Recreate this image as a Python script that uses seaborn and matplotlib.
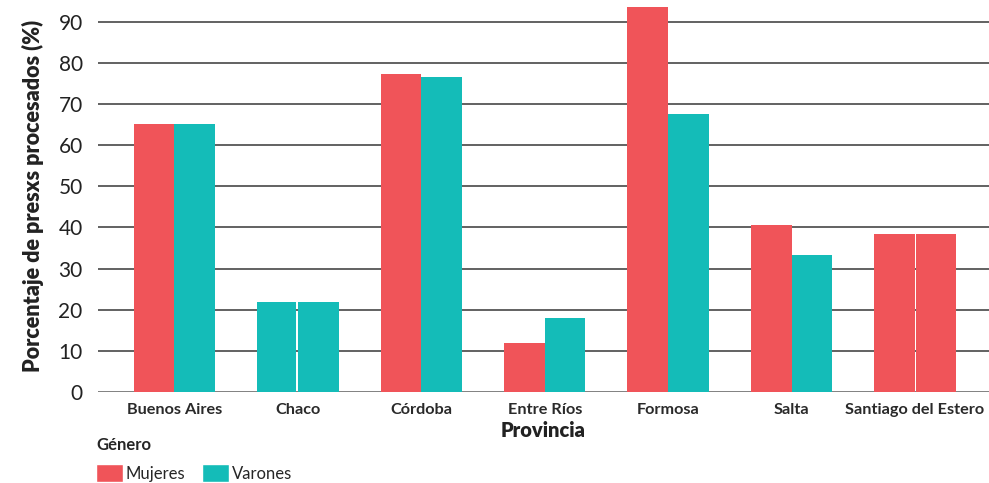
import matplotlib
matplotlib.use("Agg")
import matplotlib.pyplot as plt
from matplotlib.patches import Patch
import seaborn as sns
import pandas as pd

provincias = ["Buenos Aires", "Chaco", "Córdoba", "Entre Ríos", "Formosa", "Salta", "Santiago del Estero"]
mujeres = [65.1, 21.8, 77.2, 11.8, 93.6, 40.7, 38.5]
varones = [65.1, 21.8, 76.5, 18.0, 67.6, 33.2, 38.5]
generos = ["Mujeres", "Varones"]
yticks = [0, 10, 20, 30, 40, 50, 60, 70, 80, 90]

# in the original, Chaco is drawn all teal and Santiago del Estero all red
color_forzado = {("Mujeres", "Chaco"): "Varones", ("Varones", "Santiago del Estero"): "Mujeres"}

ROJO = "#F05459"
TEAL = "#14BCB8"
colores = {"Mujeres": ROJO, "Varones": TEAL}

df = pd.DataFrame({
    "Provincia": provincias * 2,
    "Porcentaje": mujeres + varones,
    "Género": ["Mujeres"] * len(provincias) + ["Varones"] * len(provincias),
})

sns.set_theme(style="white")
plt.rcParams["font.family"] = ["Lato", "DejaVu Sans"]

fig = plt.figure(figsize=(9.89, 4.83), dpi=100)
ax = fig.add_axes([0.099, 0.1884, 0.901, 0.8116])

sns.barplot(data=df, x="Provincia", y="Porcentaje", hue="Género", order=provincias,
            hue_order=generos, palette=colores, width=0.66, linewidth=0,
            saturation=1, legend=False, ax=ax, zorder=3)

# recolour the bars that the original draws in the other colour,
# leaving a thin white gap between the two same-coloured bars
i = 0
for g in generos:
    for p in provincias:
        bar = ax.patches[i]
        if (g, p) in color_forzado:
            bar.set_facecolor(colores[color_forzado[(g, p)]])
            w = bar.get_width()
            if g == "Mujeres":
                bar.set_width(w - 0.012)
            else:
                bar.set_x(bar.get_x() + 0.012)
                bar.set_width(w - 0.012)
        i += 1

ax.set_ylim(0, 95.3)
ax.set_xlim(-0.62, 6.6)
ax.set_yticks(yticks)
ax.set_yticklabels([str(t) for t in yticks], fontsize=15, color="#222222")
ax.tick_params(axis="y", length=0, pad=11)
ax.tick_params(axis="x", length=0, pad=8)
for lab in ax.get_xticklabels():
    lab.set_fontweight("bold")
    lab.set_fontsize(11.7)
    lab.set_color("#2a2a2a")

ax.yaxis.grid(True, color="#555555", linewidth=1.3, zorder=0)
ax.axhline(0, color="#888888", linewidth=2, zorder=2)
for s in ax.spines.values():
    s.set_visible(False)

ax.set_ylabel("Porcentaje de presxs procesados (%)", fontsize=15.5, fontweight="heavy",
              color="#222222", labelpad=10)
ax.set_xlabel("Provincia", fontsize=14.5, fontweight="heavy", color="#222222", labelpad=3)

handles = [Patch(facecolor=colores[g], label=g) for g in generos]
leg = fig.legend(handles=handles, title="Género", loc="upper left",
                 bbox_to_anchor=(0.097, 0.095), ncol=2, frameon=False,
                 fontsize=12, title_fontproperties={"weight": "bold", "size": 12},
                 handlelength=1.62, handleheight=1.26, handletextpad=0.18,
                 columnspacing=0.96, borderpad=0, borderaxespad=0, labelspacing=0.2)
leg._legend_box.align = "left"
leg._legend_box.sep = 8

fig.savefig("out.png", dpi=100)
